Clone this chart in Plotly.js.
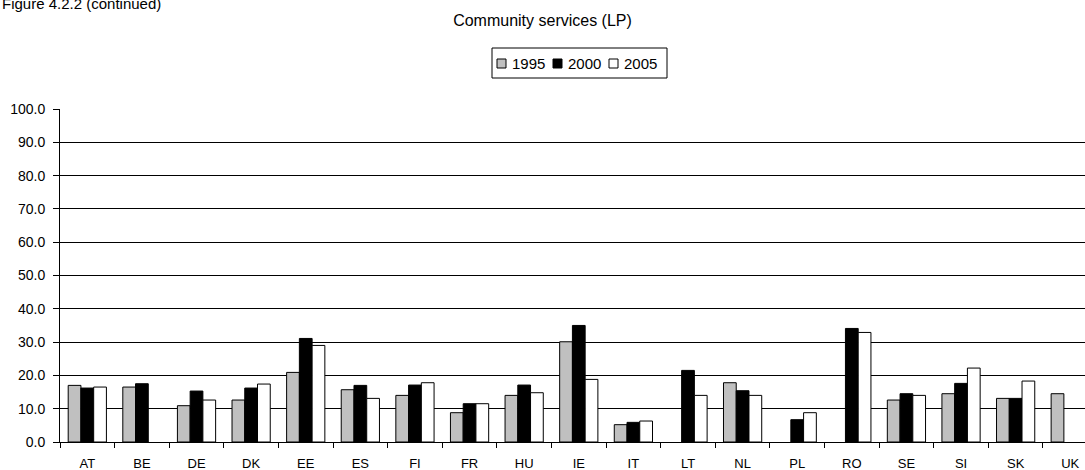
<!DOCTYPE html>
<html><head><meta charset="utf-8">
<script src="https://cdn.plot.ly/plotly-3.0.1.min.js"></script>
<style>html,body{margin:0;padding:0;background:#fff}</style>
</head><body>
<div id="chart" style="width:1085px;height:470px"></div>
<script>
const countries = ["AT","BE","DE","DK","EE","ES","FI","FR","HU","IE","IT","LT","NL","PL","RO","SE","SI","SK","UK"];
const seriesNames = ["1995","2000","2005"];
const v1995 = [17.0,16.5,10.9,12.6,20.9,15.7,14.0,8.8,14.0,30.1,5.2,null,17.8,null,null,12.6,14.5,13.1,14.5];
const v2000 = [16.2,17.5,15.3,16.2,31.1,17.0,17.1,11.5,17.1,35.0,5.9,21.5,15.4,6.7,34.1,14.5,17.6,13.1,null];
const v2005 = [16.5,null,12.6,17.4,29.0,13.1,17.8,11.5,14.8,18.8,6.3,14.0,14.0,8.8,32.9,14.0,22.2,18.3,null];
const yTicks = [0,10,20,30,40,50,60,70,80,90,100];

const FAM = "Liberation Sans, Arial, sans-serif";
const colors = ["#c0c0c0","#000000","#ffffff"];
const W = 1085, H = 470, ML = 60, MR = 0, MT = 109, MB = 28;
const PW = W - ML - MR, PH = H - MT - MB;
const px = x => (x - ML) / PW;          // pixel -> paper x
const py = y => (H - MB - y) / PH;      // pixel -> paper y

const vals = [v1995, v2000, v2005];
const data = seriesNames.map((n, i) => ({type:"bar", name:n, x:countries, y:vals[i],
  marker:{color:colors[i], line:{color:"#000", width:1}}, showlegend:false}));

// manual legend (compact box like the reference)
const shapes = [{type:"rect", xref:"paper", yref:"paper", x0:px(492), x1:px(667), y0:py(78), y1:py(48),
  line:{color:"#000", width:1}, fillcolor:"#fff"}];
const annotations = [];
const symX = [497, 553, 609];
seriesNames.forEach((n, i) => {
  shapes.push({type:"rect", xref:"paper", yref:"paper", x0:px(symX[i]), x1:px(symX[i]+9),
    y0:py(68), y1:py(59), line:{color:"#000", width:1}, fillcolor:colors[i]});
  annotations.push({text:n, xref:"paper", yref:"paper", x:px(symX[i]+13), y:py(63.5),
    xanchor:"left", yanchor:"middle", showarrow:false, font:{family:FAM, size:15, color:"#000"}});
});
annotations.push({text:"Figure 4.2.2 (continued)", xref:"paper", yref:"paper", x:px(0),
  xanchor:"left", y:py(3), yanchor:"middle", showarrow:false,
  font:{family:FAM, size:15, color:"#000"}});

const layout = {
  width:W, height:H,
  margin:{l:ML, r:MR, t:MT, b:MB, pad:0},
  paper_bgcolor:"#fff", plot_bgcolor:"#fff",
  font:{family:FAM, size:13, color:"#000"},
  barmode:"group", bargap:0.3, bargroupgap:0,
  title:{text:"Community services (LP)", font:{family:FAM, size:16, color:"#000"},
    x:0.5, xanchor:"center", y:1-20/H, yanchor:"middle", yref:"container"},
  showlegend:false,
  xaxis:{type:"category", range:[-0.5, 18.27], fixedrange:true,
    showline:true, linecolor:"#000", linewidth:1,
    ticks:"outside", tickson:"boundaries", ticklen:5, tickcolor:"#000",
    tickfont:{family:FAM, size:13, color:"#000"}, ticklabelstandoff:9,
    showgrid:false, zeroline:false},
  yaxis:{range:[0,100], tickvals:yTicks, ticktext:yTicks.map(v=>v.toFixed(1)),
    showline:true, linecolor:"#000", linewidth:1, ticks:"outside", ticklen:6, tickcolor:"#000",
    showgrid:true, gridcolor:"#000", gridwidth:1, zeroline:false,
    tickfont:{family:FAM, size:14, color:"#000"}, ticklabelstandoff:5},
  shapes:shapes,
  annotations:annotations
};
Plotly.newPlot("chart", data, layout, {displayModeBar:false, staticPlot:true});
</script>
</body></html>
